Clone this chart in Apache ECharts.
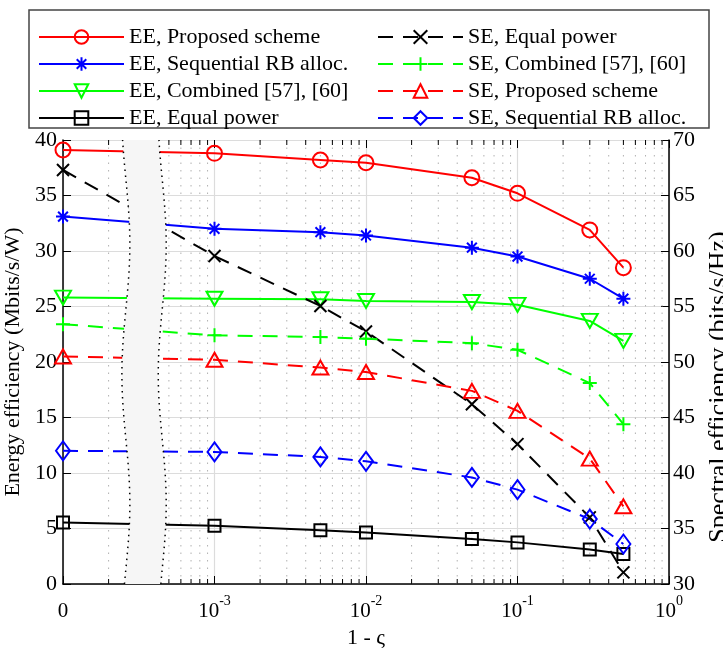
<!DOCTYPE html>
<html>
<head>
    <meta charset="utf-8">
    <title>EE / SE vs 1 - ς</title>
    <style>
        html, body { margin: 0; padding: 0; background: #fff; }
        #main { width: 723px; height: 649px; }
    </style>
</head>
<body>
    <div id="main"></div>
    <script src="https://cdn.jsdelivr.net/npm/echarts@6/dist/echarts.min.js"></script>
    <script>
        // x positions (1e-4 is drawn as "0" on the broken log axis)
        var xVals = [1e-4, 1e-3, 5e-3, 1e-2, 5e-2, 1e-1, 3e-1, 5e-1];

        // energy efficiency, Mbits/s/W (left axis)
        var eeProposed   = [39.1, 38.8, 38.2, 37.95, 36.6, 35.2, 31.9, 28.5];
        var eeSequential = [33.1, 32.0, 31.7, 31.4, 30.3, 29.5, 27.5, 25.7];
        var eeCombined   = [25.8, 25.7, 25.65, 25.5, 25.4, 25.15, 23.7, 21.9];
        var eeEqual      = [5.55, 5.25, 4.85, 4.65, 4.05, 3.75, 3.1, 2.7];

        // spectral efficiency, bits/s/Hz (right axis)
        var seEqual      = [67.3, 59.55, 55.05, 52.75, 46.2, 42.6, 36.0, 31.05];
        var seCombined   = [53.4, 52.4, 52.25, 52.1, 51.7, 51.1, 48.1, 44.4];
        var seProposed   = [50.5, 50.2, 49.5, 49.1, 47.4, 45.6, 41.3, 37.0];
        var seSequential = [42.0, 41.9, 41.45, 41.05, 39.6, 38.5, 35.85, 33.6];

        // minor log ticks 2..9 in each decade
        var minorTicks = [];
        for (var d = -4; d <= -1; d++) {
            for (var m = 2; m <= 9; m++) minorTicks.push([m * Math.pow(10, d)]);
        }

        var FONT = 'Liberation Serif';
        var RED = '#ff0000', BLUE = '#0000ff', GREEN = '#00ff00', BLACK = '#000000';

        var symPlus = 'path://M5 0L5 10M0 5L10 5';
        var symCross = 'path://M0 0L10 10M0 10L10 0';
        var symStar = 'path://M5 0L5 10M0 5L10 5M1.5 1.5L8.5 8.5M1.5 8.5L8.5 1.5';

        function pairs(ys) {
            return xVals.map(function (x, i) { return [x, ys[i]]; });
        }

        function lineSeries(name, ys, axis, color, dashed, symbol, size, rotate) {
            return {
                name: name,
                type: 'line',
                yAxisIndex: axis,
                data: pairs(ys),
                symbol: symbol,
                symbolSize: size,
                symbolRotate: rotate || 0,
                showAllSymbol: true,
                clip: false,
                z: 3,
                lineStyle: { color: color, width: 2, type: dashed ? [15, 10] : 'solid' },
                itemStyle: { color: 'transparent', borderColor: color, borderWidth: 2 },
                emphasis: { disabled: true }
            };
        }

        var chart = echarts.init(document.getElementById('main'));

        var series = [
            lineSeries('EE, Proposed scheme', eeProposed, 0, RED, false, 'circle', 15),
            lineSeries('EE, Sequential RB alloc.', eeSequential, 0, BLUE, false, symStar, 14),
            lineSeries('EE, Combined [57], [60]', eeCombined, 0, GREEN, false, 'triangle', [16, 14], 180),
            lineSeries('EE, Equal power', eeEqual, 0, BLACK, false, 'rect', 12),
            lineSeries('SE, Equal power', seEqual, 1, BLACK, true, symCross, 12),
            lineSeries('SE, Combined [57], [60]', seCombined, 1, GREEN, true, symPlus, 14),
            lineSeries('SE, Proposed scheme', seProposed, 1, RED, true, 'triangle', [16, 14]),
            lineSeries('SE, Sequential RB alloc.', seSequential, 1, BLUE, true, 'diamond', [14, 19]),
            {
                // dotted minor grid + minor ticks for the log axis
                type: 'custom',
                silent: true,
                z: 1,
                data: minorTicks,
                renderItem: function (params, api) {
                    var x = api.value(0);
                    var p0 = api.coord([x, 0]);
                    var p1 = api.coord([x, 40]);
                    return {
                        type: 'group',
                        children: [
                            { type: 'line', shape: { x1: p0[0], y1: p0[1], x2: p1[0], y2: p1[1] },
                              style: { stroke: '#b0b0b0', lineWidth: 1, lineDash: [1.5, 6] } },
                            { type: 'line', shape: { x1: p0[0], y1: p0[1], x2: p0[0], y2: p0[1] - 5 },
                              style: { stroke: '#000', lineWidth: 1 } },
                            { type: 'line', shape: { x1: p1[0], y1: p1[1], x2: p1[0], y2: p1[1] + 5 },
                              style: { stroke: '#000', lineWidth: 1 } }
                        ]
                    };
                }
            },
            {
                // axis break band between 0 and 1e-3
                type: 'custom',
                silent: true,
                z: 6,
                clip: false,
                data: [[0]],
                renderItem: function (params, api) {
                    var xl = Math.pow(10, -3.585), xr = Math.pow(10, -3.345);
                    var left = [], right = [];
                    for (var v = 0; v <= 40.001; v += 1) {
                        var off = 4 * Math.cos(2 * Math.PI * (v - 30.6) / 23.4);
                        var a = api.coord([xl, v]), b = api.coord([xr, v]);
                        left.push([a[0] + off, a[1]]);
                        right.push([b[0] + off, b[1]]);
                    }
                    var poly = left.concat(right.slice().reverse());
                    return {
                        type: 'group',
                        children: [
                            { type: 'polygon', shape: { points: poly }, style: { fill: '#f6f6f6', stroke: null } },
                            { type: 'polyline', shape: { points: left },
                              style: { stroke: '#000', lineWidth: 1.5, lineDash: [1.5, 4.5], fill: null } },
                            { type: 'polyline', shape: { points: right },
                              style: { stroke: '#000', lineWidth: 1.5, lineDash: [1.5, 4.5], fill: null } }
                        ]
                    };
                }
            }
        ];

        var legendText = { fontFamily: FONT, fontSize: 22, color: '#000', lineHeight: 22 };

        var option = {
            animation: false,
            backgroundColor: '#fff',
            textStyle: { fontFamily: FONT },
            grid: { left: 63, right: 54, top: 140, bottom: 65, outerBoundsMode: 'none', containLabel: false },
            graphic: [{
                type: 'rect',
                shape: { x: 29, y: 10, width: 680, height: 118 },
                style: { fill: '#fff', stroke: '#444', lineWidth: 1.5 },
                z: 0
            }],
            legend: [{
                orient: 'vertical',
                left: 38, top: 26, padding: 0,
                itemWidth: 85, itemHeight: 17, itemGap: 5,
                textStyle: legendText,
                data: ['EE, Proposed scheme', 'EE, Sequential RB alloc.', 'EE, Combined [57], [60]', 'EE, Equal power']
            }, {
                orient: 'vertical',
                left: 377, top: 26, padding: 0,
                itemWidth: 85, itemHeight: 17, itemGap: 5,
                textStyle: legendText,
                data: ['SE, Equal power', 'SE, Combined [57], [60]', 'SE, Proposed scheme', 'SE, Sequential RB alloc.']
            }],
            xAxis: [{
                type: 'log',
                logBase: 10,
                min: 1e-4,
                max: 1,
                name: '1 - ς',
                nameLocation: 'middle',
                nameGap: 34,
                nameTextStyle: { fontFamily: FONT, fontSize: 22, color: '#000' },
                axisLine: { lineStyle: { color: '#000', width: 1.5 } },
                axisTick: { inside: true, length: 8, lineStyle: { color: '#000' } },
                splitLine: { show: true, lineStyle: { color: '#dcdcdc', width: 1.2 } },
                axisLabel: {
                    margin: 10,
                    color: '#000',
                    formatter: function (v) {
                        var e = Math.round(Math.log(v) / Math.LN10);
                        return e === -4 ? '{b|0}' : '{b|10}{s|' + e + '}';
                    },
                    rich: {
                        b: { fontFamily: FONT, fontSize: 21, color: '#000', lineHeight: 28, verticalAlign: 'bottom' },
                        s: { fontFamily: FONT, fontSize: 14, color: '#000', lineHeight: 28, verticalAlign: 'top' }
                    }
                }
            }, {
                type: 'log',
                logBase: 10,
                min: 1e-4,
                max: 1,
                position: 'top',
                axisLine: { show: false },
                axisTick: { inside: true, length: 8, lineStyle: { color: '#000' } },
                axisLabel: { show: false },
                splitLine: { show: false }
            }],
            yAxis: [{
                type: 'value',
                min: 0, max: 40, interval: 5,
                name: 'Energy efficiency (Mbits/s/W)',
                nameLocation: 'middle',
                nameGap: 37,
                nameTextStyle: { fontFamily: FONT, fontSize: 22, color: '#000' },
                axisLine: { show: true, lineStyle: { color: '#000', width: 1.5 } },
                axisTick: { show: true, inside: true, length: 8, lineStyle: { color: '#000' } },
                axisLabel: { fontFamily: FONT, fontSize: 22, color: '#000', margin: 6 },
                splitLine: { show: true, lineStyle: { color: '#dcdcdc', width: 1.2 } }
            }, {
                type: 'value',
                min: 30, max: 70, interval: 5,
                position: 'right',
                name: 'Spectral efficiency (bits/s/Hz)',
                nameLocation: 'middle',
                nameGap: 31,
                nameTextStyle: { fontFamily: FONT, fontSize: 26, color: '#000', padding: [0, 50, 0, 0] },
                axisLine: { show: true, lineStyle: { color: '#000', width: 1.5 } },
                axisTick: { show: true, inside: true, length: 8, lineStyle: { color: '#000' } },
                axisLabel: { fontFamily: FONT, fontSize: 22, color: '#000', margin: 4 },
                splitLine: { show: false }
            }],
            series: series
        };

        chart.setOption(option);
        window.addEventListener('resize', function () { chart.resize(); });
    </script>
</body>
</html>
